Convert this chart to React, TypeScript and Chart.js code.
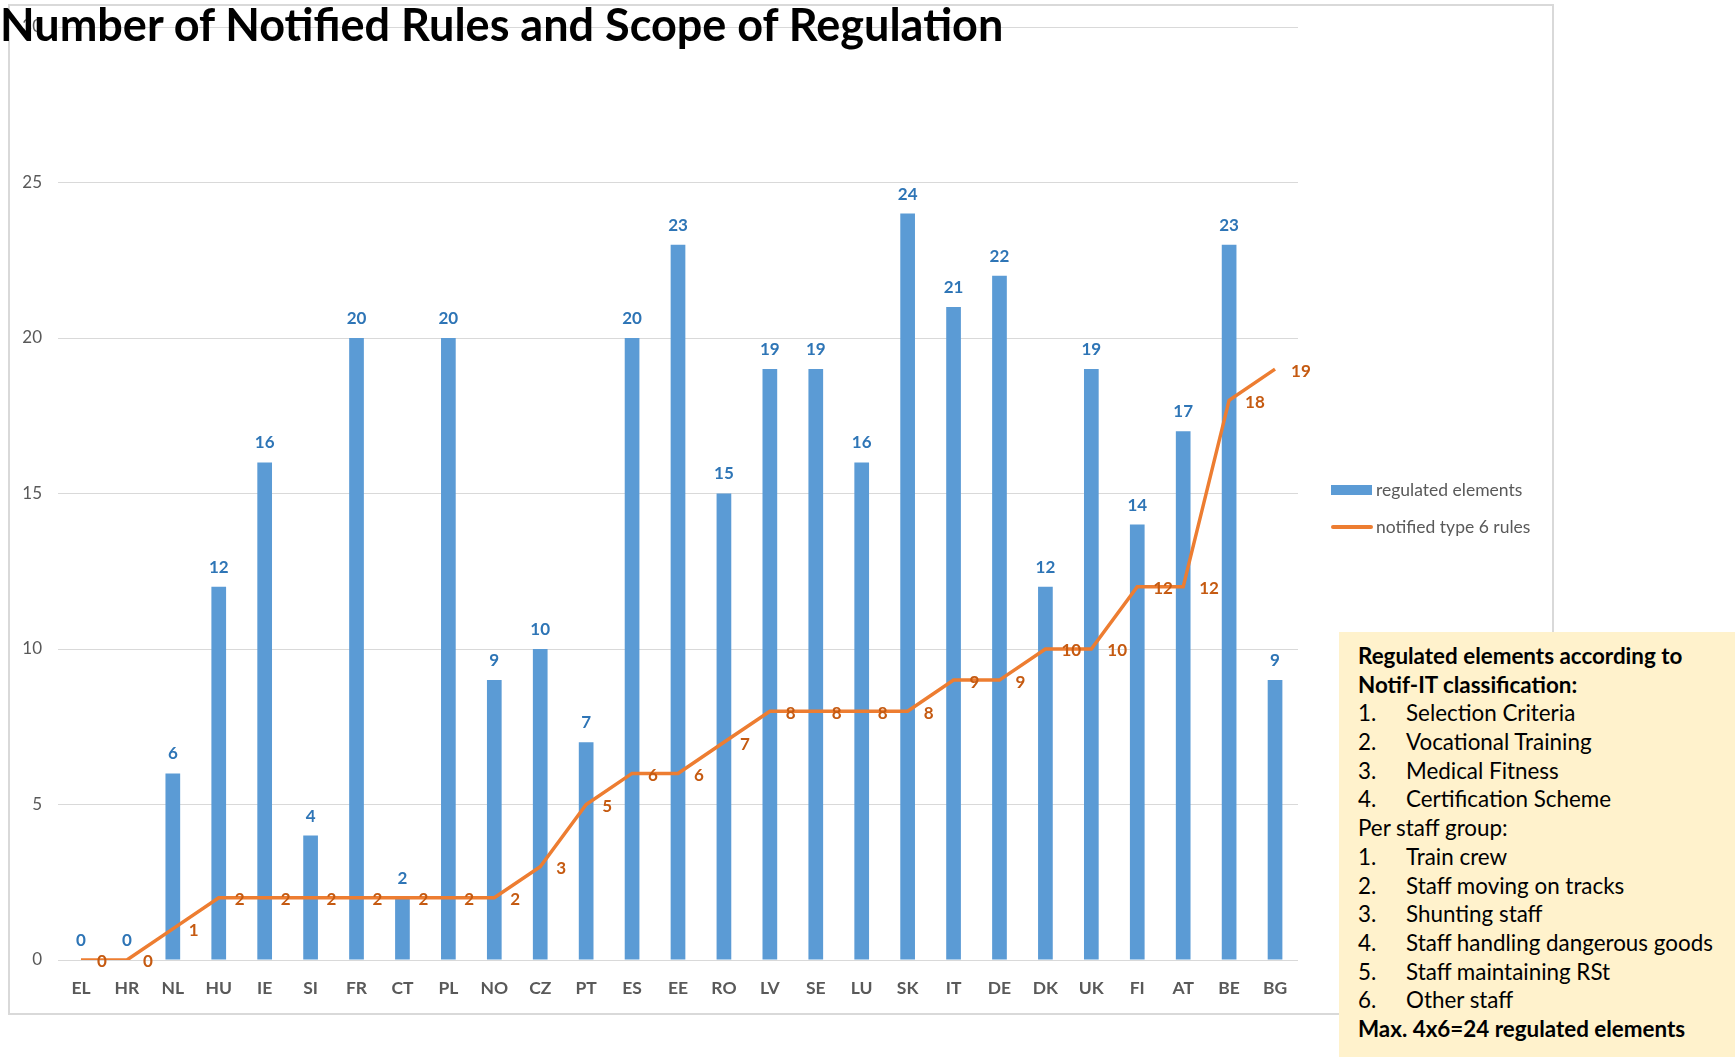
import React, { useEffect, useRef } from "react";
import { Chart, registerables } from "chart.js";

Chart.register(...registerables);

const titleText = "Number of Notified Rules and Scope of Regulation";
const categories = ["EL", "HR", "NL", "HU", "IE", "SI", "FR", "CT", "PL", "NO", "CZ", "PT", "ES", "EE", "RO", "LV", "SE", "LU", "SK", "IT", "DE", "DK", "UK", "FI", "AT", "BE", "BG"];
const regulatedElements = [0, 0, 6, 12, 16, 4, 20, 2, 20, 9, 10, 7, 20, 23, 15, 19, 19, 16, 24, 21, 22, 12, 19, 14, 17, 23, 9];
const notifiedRules = [0, 0, 1, 2, 2, 2, 2, 2, 2, 2, 3, 5, 6, 6, 7, 8, 8, 8, 8, 9, 9, 10, 10, 12, 12, 18, 19];
const seriesNames = ["regulated elements", "notified type 6 rules"];
const yMin = 0;
const yMax = 30;
const yStep = 5;

const boxHeading = ["Regulated elements according to", "Notif-IT classification:"];
const elementItems = ["Selection Criteria", "Vocational Training", "Medical Fitness", "Certification Scheme"];
const staffHeading = "Per staff group:";
const staffItems = ["Train crew", "Staff moving on tracks", "Shunting staff", "Staff handling dangerous goods", "Staff maintaining RSt", "Other staff"];
const boxFooter = "Max. 4x6=24 regulated elements";

const BAR_COLOR = "#5B9BD5";
const LINE_COLOR = "#ED7D31";
const BAR_LABEL_COLOR = "#2E75B6";
const LINE_LABEL_COLOR = "#C55A11";
const AXIS_TEXT = "#595959";
const GRID = "#D9D9D9";
const FONT = "Lato, 'Open Sans', sans-serif";

const valueLabels = {
  id: "valueLabels",
  afterDatasetsDraw(chart: any) {
    const ctx = chart.ctx;
    ctx.save();
    ctx.font = `bold 17px ${FONT}`;
    const barMeta = chart.getDatasetMeta(0);
    ctx.fillStyle = BAR_LABEL_COLOR;
    ctx.textAlign = "center";
    ctx.textBaseline = "bottom";
    barMeta.data.forEach((el: any, i: number) => {
      ctx.fillText(String(regulatedElements[i]), el.x, el.y - 11);
    });
    const lineMeta = chart.getDatasetMeta(1);
    ctx.fillStyle = LINE_LABEL_COLOR;
    ctx.textAlign = "left";
    ctx.textBaseline = "middle";
    lineMeta.data.forEach((el: any, i: number) => {
      ctx.fillText(String(notifiedRules[i]), el.x + 16, el.y + 2);
    });
    ctx.restore();
  },
};

export default function App() {
  const canvasRef = useRef<HTMLCanvasElement | null>(null);

  useEffect(() => {
    if (!canvasRef.current) return;
    Chart.defaults.font.family = FONT;
    const chart = new Chart(canvasRef.current, {
      type: "bar",
      data: {
        labels: categories,
        datasets: [
          {
            type: "bar",
            label: seriesNames[0],
            data: regulatedElements,
            backgroundColor: BAR_COLOR,
            borderWidth: 0,
            categoryPercentage: 1,
            barPercentage: 0.32,
            order: 1,
          },
          {
            type: "line",
            label: seriesNames[1],
            data: notifiedRules,
            borderColor: LINE_COLOR,
            backgroundColor: LINE_COLOR,
            borderWidth: 3.5,
            pointRadius: 0,
            tension: 0,
            order: 0,
          } as any,
        ],
      },
      options: {
        animation: false,
        responsive: false,
        maintainAspectRatio: false,
        layout: { padding: { left: 0, right: 437, top: 27, bottom: 47 } },
        plugins: {
          legend: { display: false },
          tooltip: { enabled: false },
          title: { display: false },
        },
        scales: {
          x: {
            grid: { display: false, drawTicks: false },
            border: { display: false },
            ticks: { color: AXIS_TEXT, font: { size: 17.5, weight: "bold", family: FONT }, padding: 18, maxRotation: 0, autoSkip: false },
            afterFit: (s: any) => { s.height = 50; },
          },
          y: {
            min: yMin,
            max: yMax,
            grid: { color: GRID, lineWidth: 1, drawTicks: false },
            border: { display: false },
            ticks: { stepSize: yStep, color: AXIS_TEXT, font: { size: 17, family: FONT }, padding: 16 },
            afterFit: (s: any) => { s.width = 58; },
          },
        },
      },
      plugins: [valueLabels],
    });
    return () => chart.destroy();
  }, []);

  const lineStyle: React.CSSProperties = { height: 28.7, lineHeight: "28.7px", whiteSpace: "nowrap" };
  const num: React.CSSProperties = { display: "inline-block", width: 48 };

  return (
    <div style={{ position: "absolute", left: 0, top: 0, width: 1735, height: 1057, background: "#fff", overflow: "hidden", fontFamily: FONT }}>
      <div style={{ position: "absolute", left: 8, top: 4, width: 1542, height: 1007, border: `2px solid ${GRID}` }} />
      <canvas ref={canvasRef} width={1735} height={1057} style={{ position: "absolute", left: 0, top: 0, width: 1735, height: 1057 }} />
      <div style={{ position: "absolute", left: 0, top: -5, fontSize: 45, fontWeight: "bold", color: "#000", whiteSpace: "nowrap", lineHeight: "58px" }}>{titleText}</div>
      <div style={{ position: "absolute", left: 1331, top: 478, fontSize: 17.5, color: AXIS_TEXT, lineHeight: "24px" }}>
        <div style={{ display: "flex", alignItems: "center", height: 24 }}>
          <span style={{ display: "inline-block", width: 41, height: 10, background: BAR_COLOR, marginRight: 4 }} />
          {seriesNames[0]}
        </div>
        <div style={{ display: "flex", alignItems: "center", height: 24, marginTop: 13 }}>
          <span style={{ display: "inline-block", width: 42, height: 3.5, background: LINE_COLOR, borderRadius: 2, marginRight: 3 }} />
          {seriesNames[1]}
        </div>
      </div>
      <div style={{ position: "absolute", left: 1339, top: 632, width: 396, height: 425, background: "#FFF2CC", color: "#000", fontSize: 22.4, paddingTop: 10, paddingLeft: 19, boxSizing: "border-box" }}>
        {boxHeading.map((t) => (<div key={t} style={{ ...lineStyle, fontWeight: "bold" }}>{t}</div>))}
        {elementItems.map((t, i) => (<div key={t} style={lineStyle}><span style={num}>{i + 1}.</span>{t}</div>))}
        <div style={lineStyle}>{staffHeading}</div>
        {staffItems.map((t, i) => (<div key={t} style={lineStyle}><span style={num}>{i + 1}.</span>{t}</div>))}
        <div style={{ ...lineStyle, fontWeight: "bold" }}>{boxFooter}</div>
      </div>
    </div>
  );
}
